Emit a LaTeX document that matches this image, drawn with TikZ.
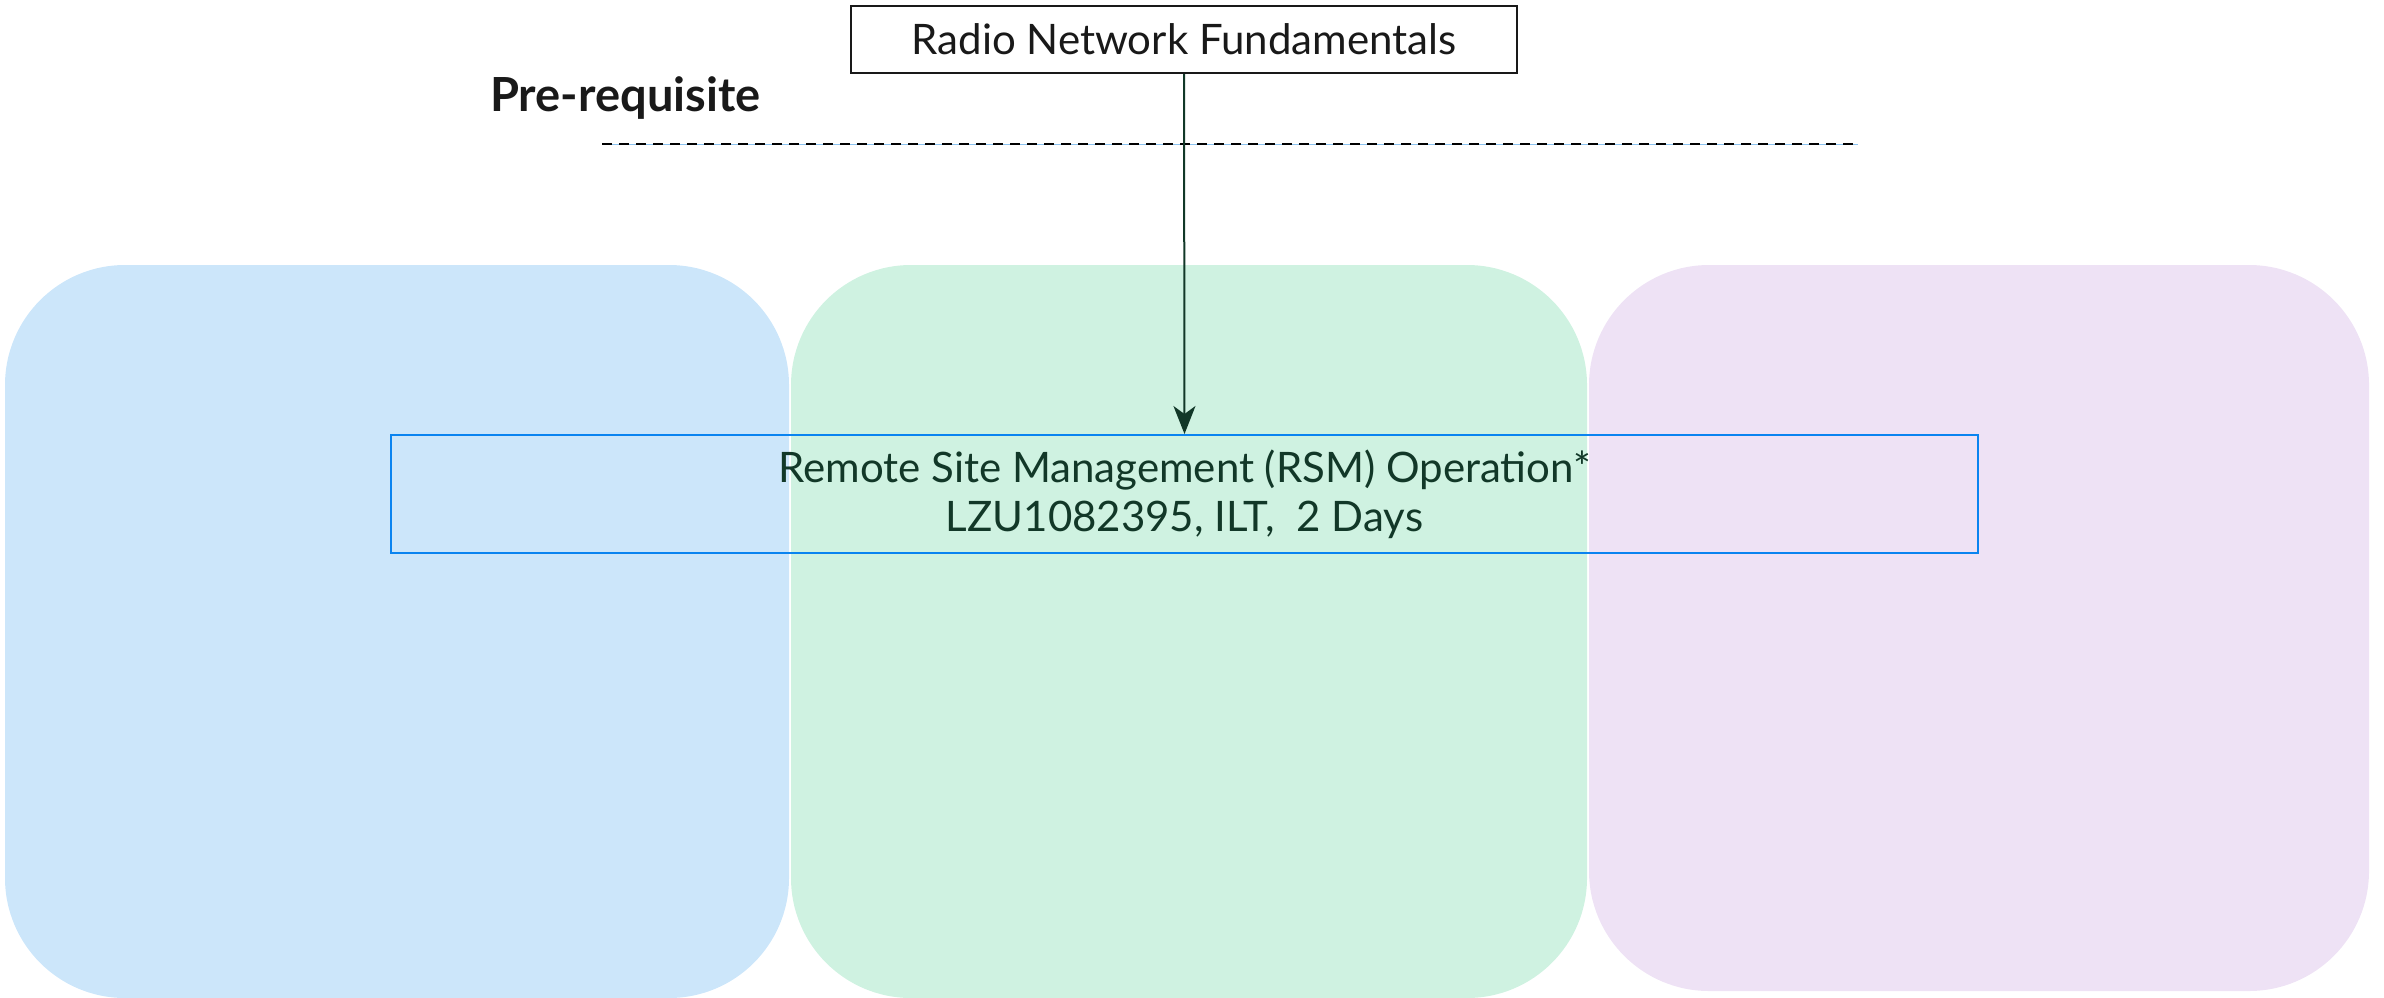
\documentclass[tikz,border=0pt]{standalone}
\usepackage{fontspec}
\setmainfont{Lato}
\usetikzlibrary{arrows.meta}
\definecolor{panelblue}{RGB}{204,230,250}
\definecolor{panelgreen}{RGB}{207,242,225}
\definecolor{panelpurple}{RGB}{238,226,245}
\definecolor{ebblue}{RGB}{10,132,240}
\definecolor{darkgreen}{RGB}{18,56,40}
\definecolor{textgrey}{RGB}{25,25,25}
\definecolor{lineblue}{RGB}{140,195,240}
\tikzset{
  panel/.style={rounded corners=120pt},
  topbox/.style={draw=textgrey, line width=2pt, fill=white, text=textgrey,
    minimum width=666pt, minimum height=67pt, inner sep=0pt,
    font=\fontsize{42}{48}\selectfont},
  rsmbox/.style={draw=ebblue, line width=2pt, text=darkgreen,
    minimum width=1587pt, minimum height=118pt, inner sep=0pt, align=center,
    font=\fontsize{42}{49}\selectfont},
  prelabel/.style={text=textgrey, font=\fontsize{47}{52}\selectfont\bfseries, inner sep=0pt},
  conn/.style={draw=darkgreen, line width=2pt, -{Stealth[length=28pt,width=22pt,inset=8pt]}},
  dashline/.style={draw=black, line width=2pt, dash pattern=on 10pt off 7pt},
}
\begin{document}
\begin{tikzpicture}[x=1pt,y=-1pt]
\useasboundingbox (0,0) rectangle (2384,997);
% background panels
\fill[panelblue, panel] (5,265) rectangle (789,998);
\fill[panelgreen, panel] (791,265) rectangle (1587,998);
\fill[panelpurple, panel] (1589,265) rectangle (2369,991);
% dashed separator
\coordinate (dl) at (602,144);
\coordinate (dr) at (1858,144);
\draw[lineblue, line width=1pt] (dl) -- (dr);
\draw[dashline] (dl) -- (dr);
% label
\node[prelabel, anchor=west] (pre) at (490,98) {Pre-requisite};
% boxes
\node[topbox] (rnf) at (1184,39.5) {Radio Network Fundamentals};
\node[rsmbox] (rsm) at (1184.5,494) {Remote Site Management (RSM) Operation*\\LZU1082395, ILT, \ 2 Days};
% connector
\draw[conn] (rnf.south) -- (rsm.north);
\end{tikzpicture}
\end{document}
